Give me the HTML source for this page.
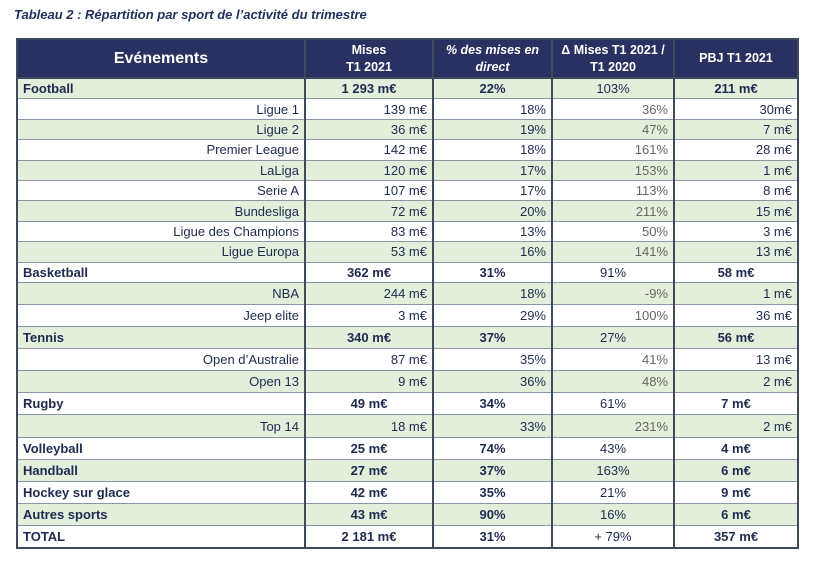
<!DOCTYPE html>
<html><head><meta charset="utf-8"><style>
body{margin:0;background:#fff;width:813px;height:561px;overflow:hidden;font-family:"Liberation Sans",sans-serif;}
.title{position:absolute;left:14px;top:7px;font-size:13px;font-weight:bold;font-style:italic;color:#1f2f5e;}
table{position:absolute;left:16px;top:38px;width:781px;border-collapse:collapse;table-layout:fixed;font-size:13px;color:#1f2a50;}
td,th{border-left:2px solid #3f4a5c;border-right:2px solid #3f4a5c;border-top:1px solid #8a95a5;border-bottom:1px solid #8a95a5;padding:0 5px;white-space:nowrap;overflow:hidden;}
th{background:#2a3060;color:#fff;font-weight:bold;height:37px;border:2px solid #3f4a5c;font-size:12.5px;line-height:17px}
th.ev{font-size:16px}
tr.g td{background:#e3eedb}
tr.w td{background:#fff}
tr.a td{height:19.4px}
tr.b td{height:21.1px}
tr.m td{font-weight:bold;text-align:center}
tr.m td:first-child{text-align:left}
tr.s td{text-align:right}
tr.s td:nth-child(4){color:#666}
table{border:2px solid #3f4a5c}
</style></head><body>
<div class="title">Tableau 2 : Répartition par sport de l’activité du trimestre</div>
<table>
<colgroup><col style="width:288px"><col style="width:128px"><col style="width:119px"><col style="width:122px"><col style="width:124px"></colgroup>
<tr><th class="ev">Evénements</th><th>Mises<br>T1 2021</th><th><i>% des mises en<br>direct</i></th><th>Δ Mises T1 2021 /<br>T1 2020</th><th>PBJ T1 2021</th></tr>
<tr class="g m a"><td>Football</td><td>1 293 m€</td><td>22%</td><td style="font-weight:normal">103%</td><td>211 m€</td></tr>
<tr class="w s a"><td>Ligue 1</td><td>139 m€</td><td>18%</td><td>36%</td><td>30m€</td></tr>
<tr class="g s a"><td>Ligue 2</td><td>36 m€</td><td>19%</td><td>47%</td><td>7 m€</td></tr>
<tr class="w s a"><td>Premier League</td><td>142 m€</td><td>18%</td><td>161%</td><td>28 m€</td></tr>
<tr class="g s a"><td>LaLiga</td><td>120 m€</td><td>17%</td><td>153%</td><td>1 m€</td></tr>
<tr class="w s a"><td>Serie A</td><td>107 m€</td><td>17%</td><td>113%</td><td>8 m€</td></tr>
<tr class="g s a"><td>Bundesliga</td><td>72 m€</td><td>20%</td><td>211%</td><td>15 m€</td></tr>
<tr class="w s a"><td>Ligue des Champions</td><td>83 m€</td><td>13%</td><td>50%</td><td>3 m€</td></tr>
<tr class="g s a"><td>Ligue Europa</td><td>53 m€</td><td>16%</td><td>141%</td><td>13 m€</td></tr>
<tr class="w m a"><td>Basketball</td><td>362 m€</td><td>31%</td><td style="font-weight:normal">91%</td><td>58 m€</td></tr>
<tr class="g s b"><td>NBA</td><td>244 m€</td><td>18%</td><td>-9%</td><td>1 m€</td></tr>
<tr class="w s b"><td>Jeep elite</td><td>3 m€</td><td>29%</td><td>100%</td><td>36 m€</td></tr>
<tr class="g m b"><td>Tennis</td><td>340 m€</td><td>37%</td><td style="font-weight:normal">27%</td><td>56 m€</td></tr>
<tr class="w s b"><td>Open d’Australie</td><td>87 m€</td><td>35%</td><td>41%</td><td>13 m€</td></tr>
<tr class="g s b"><td>Open 13</td><td>9 m€</td><td>36%</td><td>48%</td><td>2 m€</td></tr>
<tr class="w m b"><td>Rugby</td><td>49 m€</td><td>34%</td><td style="font-weight:normal">61%</td><td>7 m€</td></tr>
<tr class="g s b"><td>Top 14</td><td>18 m€</td><td>33%</td><td>231%</td><td>2 m€</td></tr>
<tr class="w m b"><td>Volleyball</td><td>25 m€</td><td>74%</td><td style="font-weight:normal">43%</td><td>4 m€</td></tr>
<tr class="g m b"><td>Handball</td><td>27 m€</td><td>37%</td><td style="font-weight:normal">163%</td><td>6 m€</td></tr>
<tr class="w m b"><td>Hockey sur glace</td><td>42 m€</td><td>35%</td><td style="font-weight:normal">21%</td><td>9 m€</td></tr>
<tr class="g m b"><td>Autres sports</td><td>43 m€</td><td>90%</td><td style="font-weight:normal">16%</td><td>6 m€</td></tr>
<tr class="w m b"><td>TOTAL</td><td>2 181 m€</td><td>31%</td><td style="font-weight:normal">+ 79%</td><td>357 m€</td></tr>
</table>
</body></html>
